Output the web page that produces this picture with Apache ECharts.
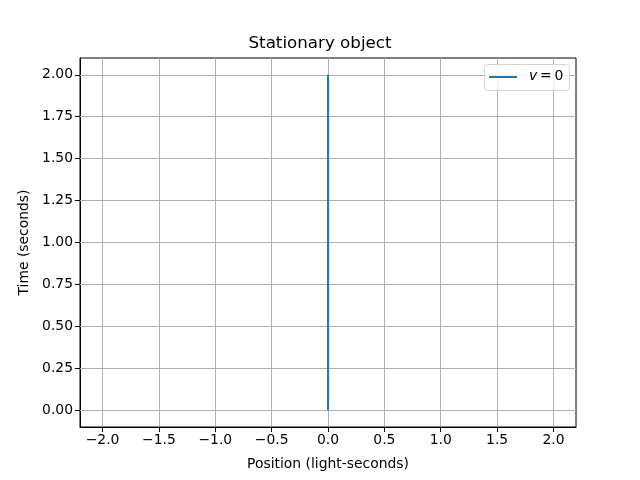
<!DOCTYPE html>
<html><head><meta charset="utf-8">
<script src="https://cdn.jsdelivr.net/npm/echarts@6/dist/echarts.min.js"></script>
<style>html,body{margin:0;padding:0;background:#fff}#c{width:640px;height:480px}</style>
</head><body><div id="c"></div>
<script>
const positions = [0, 0];
const times = [0, 2];
const xTicks = [-2.0, -1.5, -1.0, -0.5, 0.0, 0.5, 1.0, 1.5, 2.0];
const yTicks = [0, 0.25, 0.5, 0.75, 1.0, 1.25, 1.5, 1.75, 2.0];
const seriesName = 'v = 0';

const chart = echarts.init(document.getElementById('c'));
const font = 'DejaVu Sans';
chart.setOption({
  backgroundColor: '#fff',
  animation: false,
  title: {text: 'Stationary object', left: 'center', top: 35, padding: [0, 0, 0, 0],
    textStyle: {fontFamily: font, fontSize: 16.7, fontWeight: 'normal', color: '#000'}},
  grid: {left: 80, right: 64, top: 58, bottom: 53, show: true, borderColor: '#000', borderWidth: 1},
  legend: {show: false},
  xAxis: {type: 'value', min: -2.2, max: 2.2,
    name: 'Position (light-seconds)', nameLocation: 'middle', nameGap: 30,
    nameTextStyle: {fontFamily: font, fontSize: 13.9, color: '#000'},
    axisLine: {show: true, onZero: false, lineStyle: {color: '#000'}},
    axisTick: {show: true, customValues: xTicks, length: 5, lineStyle: {color: '#000'}},
    axisLabel: {customValues: xTicks, fontFamily: font, fontSize: 13.9, color: '#000', margin: 6,
      formatter: v => v.toFixed(1).replace('-', '\u2212')},
    splitLine: {show: false}},
  yAxis: {type: 'value', min: -0.1, max: 2.1,
    name: 'Time (seconds)', nameLocation: 'middle', nameGap: 44,
    nameTextStyle: {fontFamily: font, fontSize: 13.9, color: '#000'},
    axisLine: {show: true, onZero: false, lineStyle: {color: '#000'}},
    axisTick: {show: true, customValues: yTicks, length: 5, lineStyle: {color: '#000'}},
    axisLabel: {customValues: yTicks, fontFamily: font, fontSize: 13.9, color: '#000', margin: 7,
      formatter: v => v.toFixed(2)},
    splitLine: {show: false}},
  series: [
    {type: 'line', name: 'gridx', data: [], silent: true,
      markLine: {silent: true, symbol: 'none', label: {show: false},
        lineStyle: {color: '#b0b0b0', width: 1, type: 'solid'},
        data: xTicks.map(v => ({xAxis: v})).concat(yTicks.map(v => ({yAxis: v})))}},
    {type: 'line', name: seriesName, data: positions.map((p, i) => [p, times[i]]),
      showSymbol: false, lineStyle: {color: '#1f77b4', width: 2}, itemStyle: {color: '#1f77b4'}, z: 5}
  ],
  graphic: [
    {type: 'rect', shape: {x: 484.5, y: 64.5, width: 85, height: 26, r: 3},
      style: {fill: 'rgba(255,255,255,0.8)', stroke: '#d5d5d5', lineWidth: 1}, z: 100},
    {type: 'line', shape: {x1: 489, y1: 77, x2: 517, y2: 77},
      style: {stroke: '#1f77b4', lineWidth: 2}, z: 101},
    {type: 'text', x: 529, y: 69, z: 101,
      style: {text: '{i|v}\u2009=\u20090', fontFamily: font, fontSize: 13.9, fill: '#000',
        rich: {i: {fontFamily: font, fontStyle: 'italic', fontSize: 13.9}}}}
  ]
});
</script></body></html>
